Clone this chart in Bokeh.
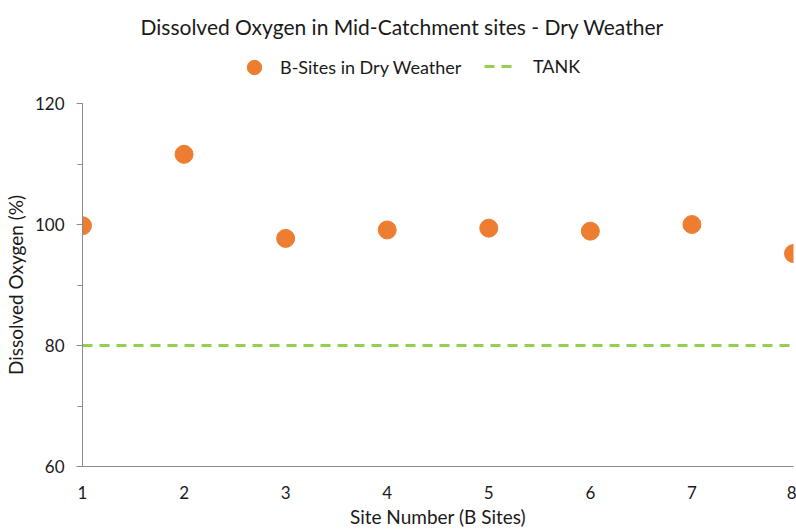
from bokeh.plotting import figure
from bokeh.layouts import column
from bokeh.models import Range1d, FixedTicker, SingleIntervalTicker, Legend, LegendItem, ColumnDataSource
from bokeh.embed import file_html
from bokeh.resources import INLINE

sites = [1, 2, 3, 4, 5, 6, 7, 8]
do_values = [99.8, 111.6, 97.7, 99.1, 99.4, 98.9, 100.0, 95.2]
tank_x = [1, 8]
tank_y = [80, 80]
x_ticks = [1, 2, 3, 4, 5, 6, 7, 8]

FONT = "Lato"
TXT = "#1a1a1a"
AX = "#8c8c8c"
ORANGE = "#ED7D31"
GREEN = "#92D050"

src = ColumnDataSource(dict(x=sites, y=do_values))
tank_src = ColumnDataSource(dict(x=tank_x, y=tank_y))

# ---- header: title + legend (its ranges keep the series out of view) ----
hdr = figure(width=796, height=93, output_backend="svg", toolbar_location=None,
             x_range=Range1d(-1, 0), y_range=Range1d(-1, 0),
             min_border_left=0, min_border_right=0, min_border_top=0, min_border_bottom=0)
hdr.axis.visible = False
hdr.xgrid.grid_line_color = None
hdr.ygrid.grid_line_color = None
hdr.outline_line_color = None
hdr.title.text = "Dissolved Oxygen in Mid-Catchment sites - Dry Weather"
hdr.title.align = "left"
hdr.title.offset = 58
hdr.title.text_font = FONT
hdr.title.text_font_size = "21px"
hdr.title.text_font_style = "normal"
hdr.title.text_color = TXT
hdr.title.standoff = 22

h_pts = hdr.scatter("x", "y", source=src, size=16, fill_color=ORANGE, line_color=ORANGE)
h_line = hdr.line("x", "y", source=tank_src, line_color=GREEN, line_width=3, line_dash="10 7")

common = dict(orientation="horizontal", border_line_color=None, background_fill_alpha=0,
              label_text_font=FONT, label_text_font_size="18px", label_text_color=TXT,
              padding=0, margin=0)
leg1 = Legend(items=[LegendItem(label="B-Sites in Dry Weather", renderers=[h_pts])],
              location=(154, 8), glyph_width=36, glyph_height=36, label_standoff=8, **common)
leg2 = Legend(items=[LegendItem(label="TANK", renderers=[h_line])],
              location=(402, 16), glyph_width=34, glyph_height=20, label_standoff=15, **common)
hdr.add_layout(leg1, "center")
hdr.add_layout(leg2, "center")

# ---- main chart ----
p = figure(width=796, height=437, output_backend="svg", toolbar_location=None,
           x_range=Range1d(1, 8), y_range=Range1d(60, 120),
           min_border_left=81, min_border_right=3, min_border_top=10, min_border_bottom=64)
p.outline_line_color = None
p.xgrid.grid_line_color = None
p.ygrid.grid_line_color = None

p.line("x", "y", source=tank_src, line_color=GREEN, line_width=3, line_dash="10 7")
p.scatter("x", "y", source=src, size=18, fill_color=ORANGE, line_color=ORANGE)

xa = p.xaxis[0]
xa.ticker = FixedTicker(ticks=x_ticks)
xa.axis_line_color = AX
xa.major_tick_line_color = None
xa.minor_tick_line_color = None
xa.major_tick_in = 0
xa.major_tick_out = 0
xa.major_label_standoff = 19
xa.major_label_text_font = FONT
xa.major_label_text_font_size = "17px"
xa.major_label_text_color = TXT
xa.axis_label = "Site Number (B Sites)"
xa.axis_label_text_font = FONT
xa.axis_label_text_font_size = "19px"
xa.axis_label_text_font_style = "normal"
xa.axis_label_text_color = TXT
xa.axis_label_standoff = 3

ya = p.yaxis[0]
ya.ticker = SingleIntervalTicker(interval=20, num_minor_ticks=2)
ya.axis_line_color = AX
ya.major_tick_line_color = AX
ya.major_tick_in = 0
ya.major_tick_out = 6
ya.minor_tick_line_color = AX
ya.minor_tick_in = 0
ya.minor_tick_out = 5
ya.major_label_standoff = 12
ya.major_label_text_font = FONT
ya.major_label_text_font_size = "17px"
ya.major_label_text_color = TXT
ya.axis_label = "Dissolved Oxygen (%)"
ya.axis_label_text_font = FONT
ya.axis_label_text_font_size = "19px"
ya.axis_label_text_font_style = "normal"
ya.axis_label_text_color = TXT
ya.axis_label_standoff = 5

layout = column(hdr, p, spacing=0)
open("out.html", "w").write(file_html(layout, INLINE))
